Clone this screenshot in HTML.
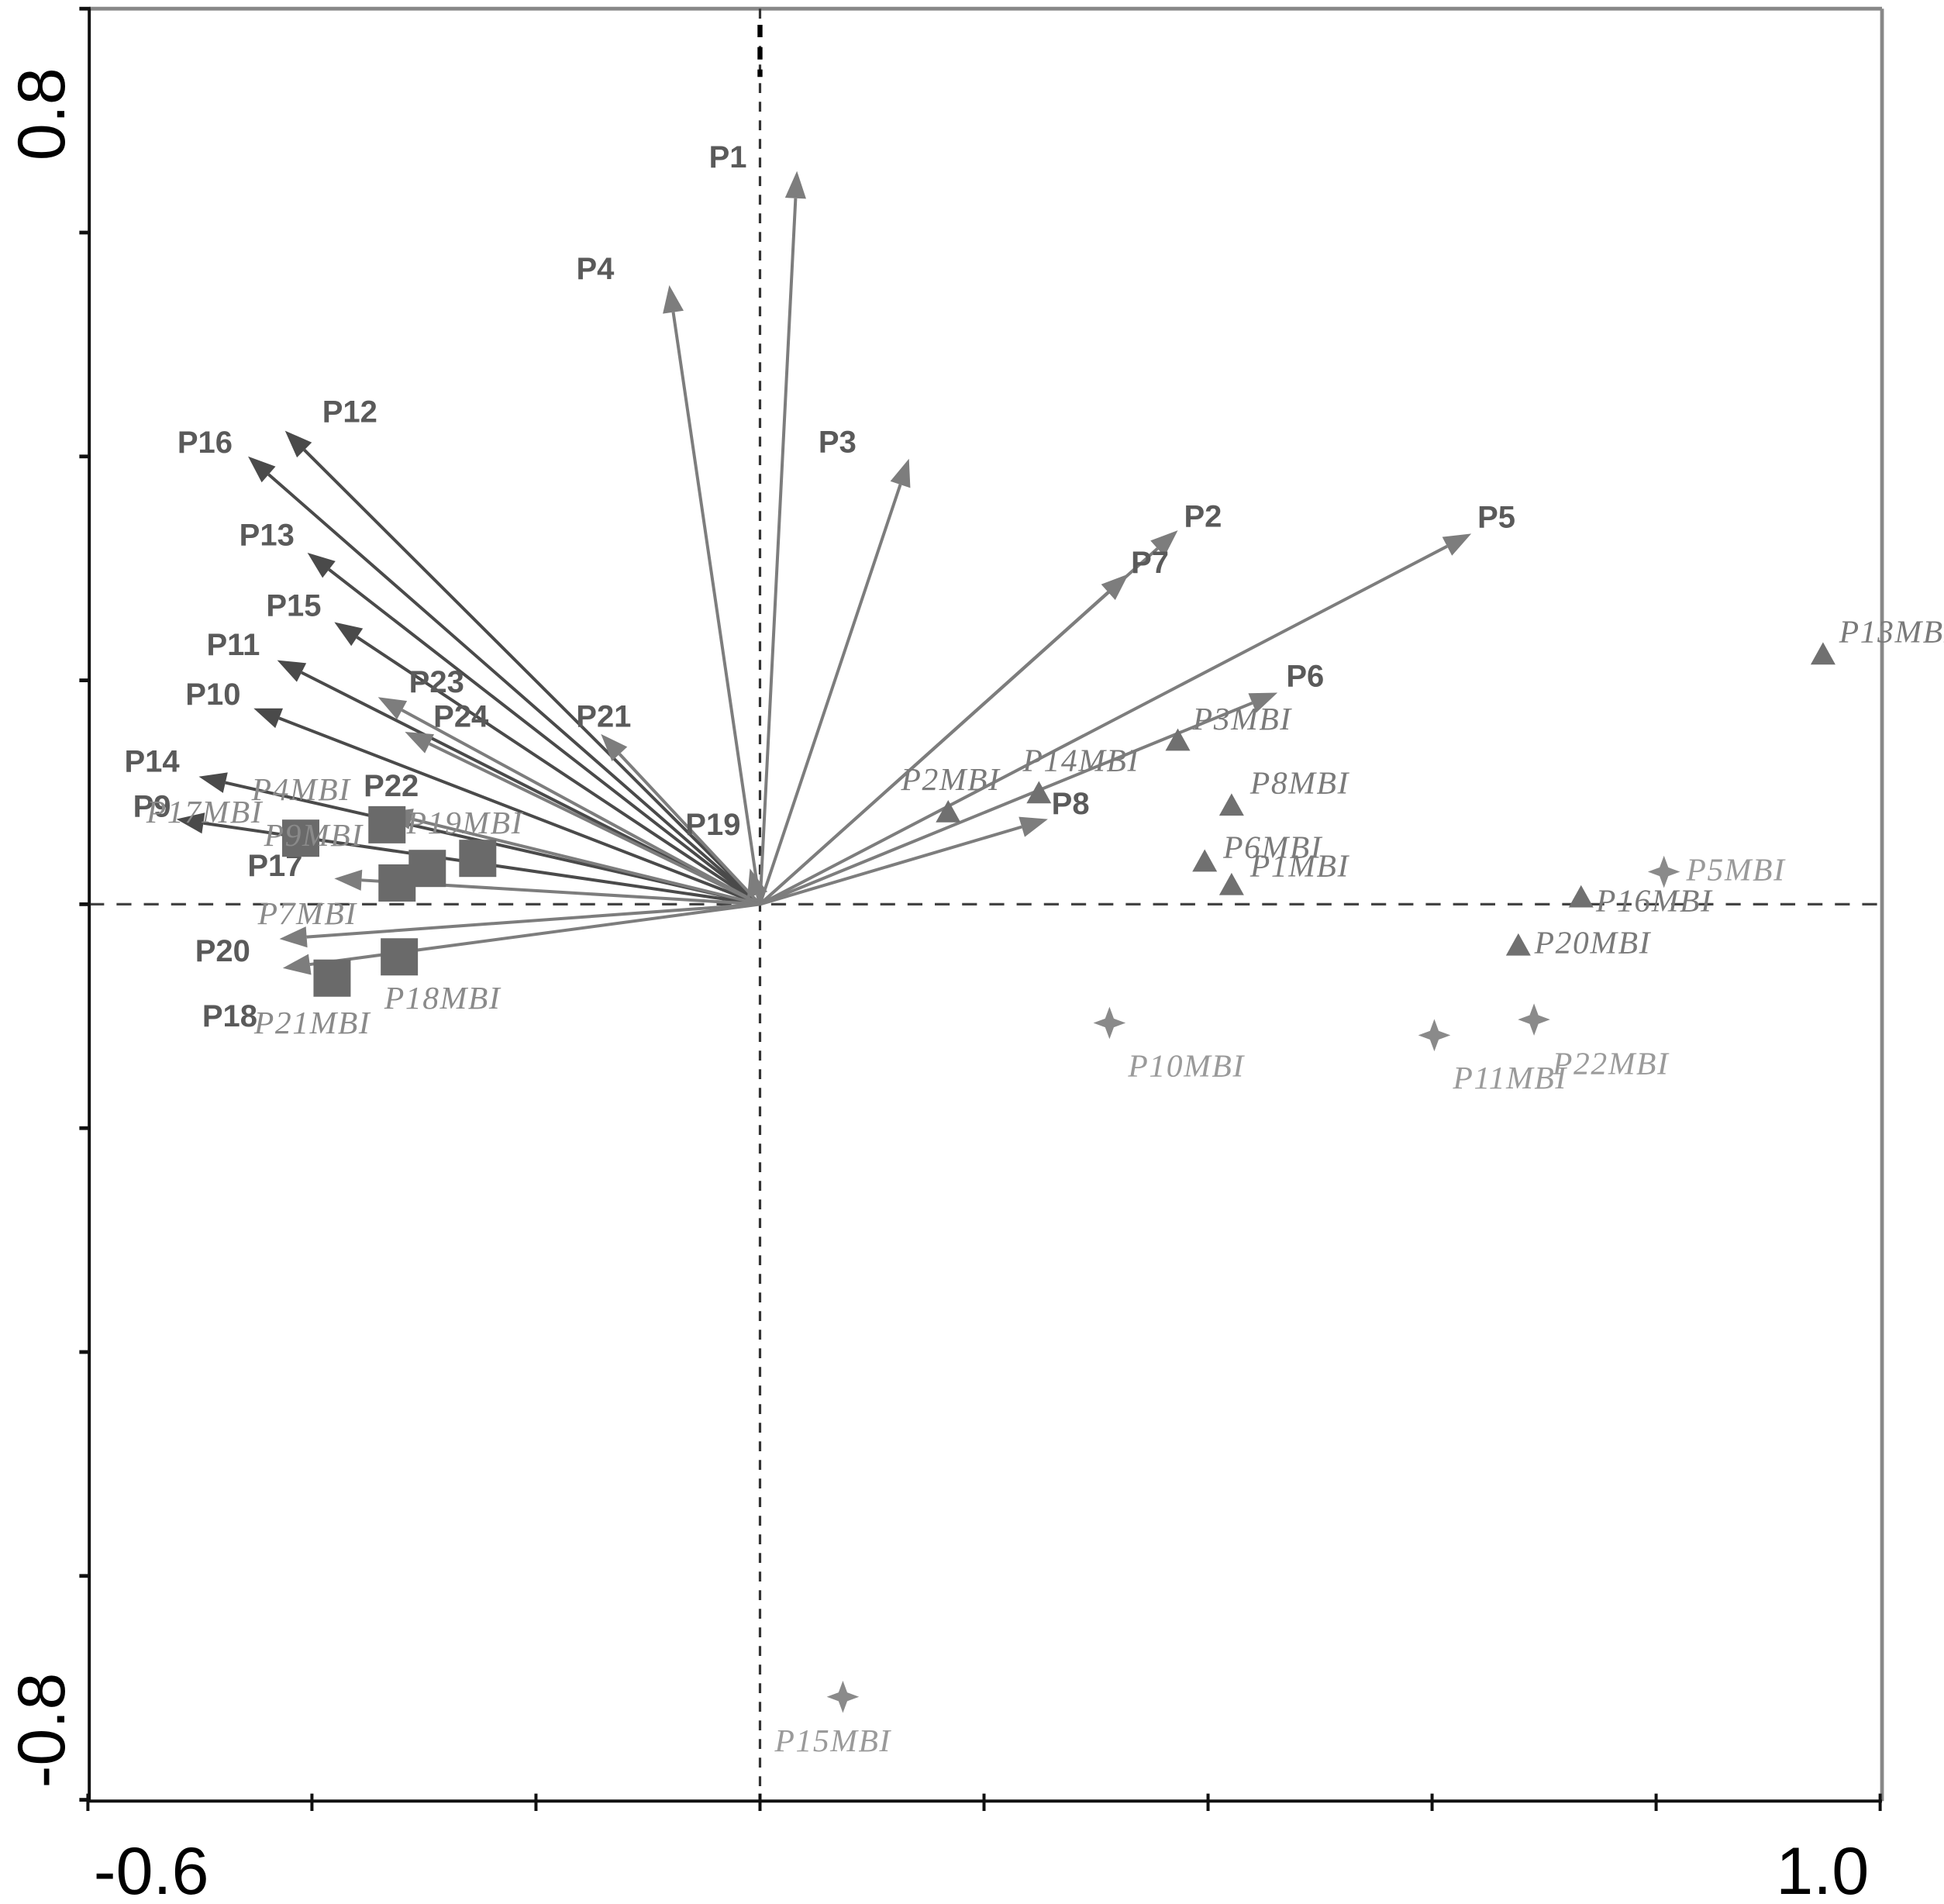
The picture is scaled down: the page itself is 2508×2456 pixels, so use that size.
<!DOCTYPE html>
<html><head><meta charset="utf-8"><style>
html,body{margin:0;padding:0;background:#fff;}
svg{display:block;}
</style></head><body>
<svg id="chart" xmlns="http://www.w3.org/2000/svg" width="2508" height="2456" viewBox="0 0 1568 1535" preserveAspectRatio="none">
<g id="frame">
<line x1="72" y1="7" x2="1518" y2="7" stroke="#888" stroke-width="3"/>
<line x1="1518" y1="7" x2="1518" y2="1452" stroke="#888" stroke-width="3"/>
<line x1="72" y1="7" x2="72" y2="1452" stroke="#111" stroke-width="2.5"/>
<line x1="72" y1="1452" x2="1518" y2="1452" stroke="#111" stroke-width="2.5"/>
<line x1="613" y1="7" x2="613" y2="1452" stroke="#333" stroke-width="2" stroke-dasharray="8,7"/>
<line x1="613" y1="20" x2="613" y2="62" stroke="#000" stroke-width="4" stroke-dasharray="10,8"/>
<line x1="72" y1="729" x2="1518" y2="729" stroke="#444" stroke-width="2" stroke-dasharray="12,10"/>
<text transform="translate(52,92) rotate(-90)" text-anchor="middle" font-family="Liberation Sans, sans-serif" font-size="54" fill="#000">0.8</text>
<text transform="translate(52,1395) rotate(-90)" text-anchor="middle" font-family="Liberation Sans, sans-serif" font-size="54" fill="#000">-0.8</text>
<text x="122" y="1527" text-anchor="middle" font-family="Liberation Sans, sans-serif" font-size="54" fill="#000">-0.6</text>
<text x="1470" y="1527" text-anchor="middle" font-family="Liberation Sans, sans-serif" font-size="54" fill="#000">1.0</text>
</g>
<g id="ticks"></g>
<g id="arrows"></g>
<g id="points"></g>
</svg>
<script>
// axis mapping
const X0 = 613, XS = 903.5, Y0 = 729, YS = 902.5;
function sx(v){ return X0 + v*XS; }
function sy(v){ return Y0 - v*YS; }
const xTicks = [-0.6,-0.4,-0.2,0,0.2,0.4,0.6,0.8,1.0];
const yTicks = [0.8,0.6,0.4,0.2,0,-0.2,-0.4,-0.6,-0.8];

// arrow (variable) data
const arrowNames = ["P1","P4","P3","P12","P16","P13","P15","P11","P10","P23","P24","P21","P14","P9","P17","P20","P18","P19","P22","P2","P7","P5","P6","P8"];
const arrowX = [0.033,-0.081,0.133,-0.424,-0.457,-0.404,-0.380,-0.431,-0.452,-0.341,-0.317,-0.142,-0.501,-0.521,-0.380,-0.429,-0.426,-0.009,-0.335,0.373,0.329,0.635,0.462,0.257];
const arrowY = [0.655,0.553,0.398,0.423,0.400,0.314,0.252,0.218,0.175,0.185,0.154,0.152,0.114,0.076,0.023,-0.031,-0.057,0.032,0.082,0.334,0.295,0.331,0.189,0.076];
const arrowDark = [0,0,0,1,1,1,1,1,1,0,0,0,1,1,0,0,0,0,0,0,0,0,0,0];
const arrowLabelDX = [-71,-75,-73,30,-57,-55,-55,-57,-55,25,23,-20,-60,-35,-70,-68,-65,-52,-17,5,2,5,7,3];
const arrowLabelDY = [-3,-5,-5,-7,-3,-6,-5,-4,-3,-4,-4,-6,-4,-2,-2,18,47,-27,-13,-3,-1,-5,-5,-4];

// site points
const squareNames = ["P4MBI","P17MBI","P9MBI","P19MBI","P7MBI","P18MBI","P21MBI"];
const squareX = [-0.333,-0.410,-0.324,-0.252,-0.297,-0.322,-0.382];
const squareY = [0.071,0.059,0.019,0.041,0.032,-0.047,-0.066];
const squareLX = [203,118,213,328,208,310,205];
const squareLY = [645,663,682,672,745,813,833];

const triNames = ["P3MBI","P14MBI","P2MBI","P8MBI","P6MBI","P1MBI","P16MBI","P20MBI","P13MBI"];
const triX = [0.373,0.249,0.168,0.421,0.397,0.421,0.733,0.677,0.949];
const triY = [0.146,0.099,0.082,0.088,0.038,0.017,0.006,-0.037,0.223];
const triLDX = [12,-13,-38,15,15,15,12,13,13];
const triLDY = [-9,-18,-18,-10,-3,-7,11,6,-10];

const starNames = ["P5MBI","P10MBI","P11MBI","P22MBI","P15MBI"];
const starX = [0.807,0.312,0.602,0.691,0.074];
const starY = [0.029,-0.106,-0.117,-0.103,-0.708];
const starLDX = [18,15,15,15,-55];
const starLDY = [7,43,43,44,44];

const NS = "http://www.w3.org/2000/svg";
function mk(tag, attrs, parent){ const e=document.createElementNS(NS,tag); for(const k in attrs) e.setAttribute(k,attrs[k]); parent.appendChild(e); return e; }

const gt = document.getElementById('ticks');
xTicks.forEach(v=>{
  const t = mk('line',{x1:sx(v),y1:1446,x2:sx(v),y2:1460,stroke:'#111','stroke-width':2.5},gt);
  
  
});
yTicks.forEach(v=>{
  const t = mk('line',{x1:64,y1:sy(v),x2:73,y2:sy(v),stroke:'#111','stroke-width':3},gt);
  
  
});

const ga = document.getElementById('arrows');
arrowNames.forEach((n,i)=>{
  const x2=sx(arrowX[i]), y2=sy(arrowY[i]);
  const col = arrowDark[i] ? '#4a4a4a' : '#7d7d7d';
  const g = mk('g',{},ga);
  
  
  const dx=x2-X0, dy=y2-Y0, L=Math.hypot(dx,dy), ux=dx/L, uy=dy/L;
  const hl=22, hw=8.5;
  const bx=x2-ux*hl, by=y2-uy*hl;
  mk('line',{x1:X0,y1:Y0,x2:bx,y2:by,stroke:col,'stroke-width':2.5},g);
  mk('polygon',{points:`${x2},${y2} ${bx-uy*hw},${by+ux*hw} ${bx+uy*hw},${by-ux*hw}`,fill:col},g);
  const t = mk('text',{x:x2+arrowLabelDX[i],y:y2+arrowLabelDY[i],'font-family':'Liberation Sans, sans-serif','font-size':25,'font-weight':'bold',fill:'#5a5a5a'},g);
  t.textContent=n;
  
  
});

const gp = document.getElementById('points');
const lblStyle = {'font-family':'Liberation Serif, serif','font-size':26,'font-style':'italic',fill:'#8a8a8a','letter-spacing':'1'};
squareNames.forEach((n,i)=>{
  const x=sx(squareX[i]), y=sy(squareY[i]);
  const r = mk('rect',{x:x-15,y:y-15,width:30,height:30,fill:'#6a6a6a'},gp);
  
  
  const t = mk('text',Object.assign({x:squareLX[i],y:squareLY[i]},lblStyle),gp);
  t.textContent=n;
  
  
});
triNames.forEach((n,i)=>{
  const x=sx(triX[i]), y=sy(triY[i]);
  const p = mk('polygon',{points:`${x},${y-10} ${x-10},${y+8} ${x+10},${y+8}`,fill:'#707070'},gp);
  
  
  const t = mk('text',Object.assign({x:x+triLDX[i],y:y+triLDY[i]},lblStyle,{fill:'#7a7a7a'}),gp);
  t.textContent=n;
  
  
});
starNames.forEach((n,i)=>{
  const x=sx(starX[i]), y=sy(starY[i]);
  const s=13, k=3.5;
  const p = mk('polygon',{points:`${x},${y-s} ${x+k},${y-k} ${x+s},${y} ${x+k},${y+k} ${x},${y+s} ${x-k},${y+k} ${x-s},${y} ${x-k},${y-k}`,fill:'#8a8a8a'},gp);
  
  
  const t = mk('text',Object.assign({x:x+starLDX[i],y:y+starLDY[i]},lblStyle,{fill:'#9a9a9a'}),gp);
  t.textContent=n;
  
  
});
</script>
</body></html>
